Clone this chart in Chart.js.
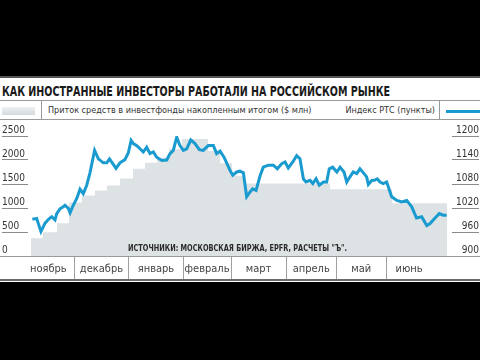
<!DOCTYPE html>
<html><head><meta charset="utf-8">
<script src="https://cdn.jsdelivr.net/npm/chart.js@4"></script>
<style>
html,body{margin:0;padding:0;background:#000;}
#wrap{position:relative;width:480px;height:360px;background:#000;overflow:hidden;font-family:'Liberation Sans Narrow','DejaVu Sans Condensed','Liberation Sans',sans-serif;color:#222;}
#panel{position:absolute;left:0;top:76px;width:480px;height:206px;background:#fff;border-top:2px solid #555;box-sizing:border-box;}
#title{position:absolute;left:2px;top:83px;font-weight:bold;font-size:14px;line-height:16px;white-space:nowrap;transform-origin:0 0;color:#1a1a1a;}
.hl{position:absolute;left:0;width:480px;height:1px;background:#9a9a9a;}
.vl{position:absolute;top:100px;width:1px;height:19px;background:#9a9a9a;}
#sw{position:absolute;left:2px;top:107px;width:33px;height:8px;background:linear-gradient(#eef1f3,#d3d9dc);}
#lg1{position:absolute;left:48px;top:104px;font-size:9px;line-height:12px;white-space:nowrap;color:#333;}
#lg2{position:absolute;right:45px;top:104px;font-size:9px;line-height:12px;white-space:nowrap;color:#333;}
#bl{position:absolute;left:446px;top:110px;width:34px;height:3px;background:#1a9bcf;}
#src{position:absolute;left:128px;top:243px;font-size:9px;line-height:11px;font-weight:bold;white-space:nowrap;color:#2a2a2a;transform-origin:0 0;}
#cv{position:absolute;left:0;top:120px;width:480px;height:162px;}
</style></head>
<body>
<div id="wrap">
  <div id="panel"></div>
  <div id="title">КАК ИНОСТРАННЫЕ ИНВЕСТОРЫ РАБОТАЛИ НА РОССИЙСКОМ РЫНКЕ</div>
  <div class="hl" style="top:100px"></div>
  <div class="hl" style="top:119px"></div>
  <div class="vl" style="left:41px"></div>
  <div class="vl" style="left:439px"></div>
  <div id="sw"></div>
  <div id="lg1">Приток средств в инвестфонды накопленным итогом ($ млн)</div>
  <div id="lg2">Индекс РТС (пункты)</div>
  <div id="bl"></div>
  <div id="cv"><canvas id="c" width="480" height="162"></canvas></div>
  <div id="src">ИСТОЧНИКИ: МОСКОВСКАЯ БИРЖА, EPFR, РАСЧЕТЫ "Ъ".</div>
</div>
<script>
// ---- data ----
const monthNames = ['ноябрь','декабрь','январь','февраль','март','апрель','май','июнь'];
const monthEdges = [0, 30, 62, 93.6, 121.6, 153.7, 183, 212, 239];
const leftTicks = [0, 500, 1000, 1500, 2000, 2500];
const rightTicks = [900, 960, 1020, 1080, 1140, 1200];

// cumulative inflow ($ mln), weekly steps (day of period, value)
const flowDays   = [4.9, 11.9, 20.1, 27.1, 34.7, 42.2, 49.2, 56.8, 64.4, 71.4, 78.4, 85.4, 93.0, 101.2, 108.2, 115.2, 122.2, 128.6, 179.3, 215.5, 228.3, 247.6];
const flowValues = [165, 372, 496, 682, 1116, 1260, 1364, 1467, 1612, 1818, 1942, 2045, 2231, 2438, 2438, 2190, 1930, 1674, 1508, 1390, 1100, 1100];

// RTS index (points)
const rtsDays = [5.7,8.2,10.7,13.1,15.4,17.0,18.9,19.9,21.8,23.7,24.7,26.7,27.7,29.6,31.6,33.5,35.4,37.4,39.3,42.0,44.2,47.1,49.1,50.7,52.3,54.5,56.8,59.7,61.7,63.3,64.6,66.6,68.5,70.4,72.4,74.3,76.3,78.2,81.2,84.1,86.0,87.9,89.9,91.8,93.8,95.7,98.1,100.6,103.1,105.4,108.3,111.3,113.2,115.2,117.5,121.0,122.6,124.9,126.8,128.8,130.7,132.7,134.2,136.2,138.5,140.4,143.4,146.3,148.6,151.2,153.1,155.0,157.6,159.9,161.8,163.8,165.3,167.7,169.3,171.2,173.1,175.5,177.4,178.9,180.9,183.3,185.2,187.5,189.1,191.0,192.9,194.9,196.8,199.2,200.7,201.7,203.7,205.6,206.9,208.5,210.4,212.4,215.3,218.3,221.2,224.1,227.0,229.8,232.8,235.8,237.7,240.6,243.1,245.4,247.4];
const rtsValues = [992,994,961,982,993,998,990,1006,1018,1023,1027,1019,1008,1027,1044,1067,1056,1077,1108,1164,1143,1133,1133,1143,1133,1119,1133,1141,1158,1189,1181,1176,1168,1160,1172,1156,1160,1147,1139,1140,1156,1164,1197,1176,1164,1168,1190,1181,1166,1164,1176,1176,1156,1162,1147,1114,1102,1110,1112,1108,1048,1060,1068,1064,1100,1122,1127,1127,1118,1131,1135,1120,1135,1151,1143,1093,1085,1089,1081,1093,1077,1085,1085,1118,1122,1110,1122,1110,1085,1098,1110,1106,1118,1106,1098,1079,1089,1090,1093,1085,1081,1085,1048,1039,1035,1039,1023,995,998,976,981,995,1006,1002,1002];

// ---- build ----
const FONT = "'Liberation Sans Narrow','DejaVu Sans Condensed','Liberation Sans',sans-serif";
Chart.defaults.font.family = FONT;
Chart.defaults.color = '#333';

const monthMids = monthNames.map((n, i) => (monthEdges[i] + monthEdges[i + 1]) / 2);
const innerEdges = monthEdges.slice(1, -1);

const framePlugin = {
  id: 'frame',
  afterDraw(chart) {
    const ctx = chart.ctx, a = chart.chartArea;
    ctx.save();
    ctx.strokeStyle = '#9a9a9a'; ctx.lineWidth = 1;
    ctx.beginPath(); ctx.moveTo(0, a.bottom + 0.5); ctx.lineTo(chart.width, a.bottom + 0.5); ctx.stroke();
    ctx.strokeStyle = '#6a6a6a'; ctx.lineWidth = 2;
    ctx.beginPath(); ctx.moveTo(0, chart.height - 2); ctx.lineTo(chart.width, chart.height - 2); ctx.stroke();
    ctx.restore();
  }
};

new Chart(document.getElementById('c'), {
  type: 'line',
  data: {
    datasets: [
      {
        label: 'Индекс РТС (пункты)',
        data: rtsDays.map((d, i) => ({x: d, y: rtsValues[i]})),
        yAxisID: 'yR',
        borderColor: '#1a9bcf',
        borderWidth: 3,
        pointRadius: 0,
        tension: 0,
        fill: false,
        order: 0
      },
      {
        label: 'Приток средств в инвестфонды накопленным итогом ($ млн)',
        data: flowDays.map((d, i) => ({x: d, y: flowValues[i]})),
        yAxisID: 'yL',
        stepped: 'after',
        borderWidth: 0,
        borderColor: 'rgba(0,0,0,0)',
        backgroundColor: '#dde2e5',
        fill: 'origin',
        pointRadius: 0,
        order: 1
      }
    ]
  },
  options: {
    responsive: false,
    animation: false,
    layout: {padding: {left: 2, right: 1, top: 16, bottom: 2}},
    plugins: {legend: {display: false}, tooltip: {enabled: false}},
    scales: {
      x: {
        type: 'linear',
        min: 3.15, max: 250.5,
        afterBuildTicks(s) {
          s.ticks = innerEdges.concat(monthMids).sort((a, b) => a - b).map(v => ({value: v}));
        },
        afterFit(s) { s.height = 24; },
        border: {display: false},
        grid: {
          drawOnChartArea: false,
          tickLength: 24,
          lineWidth: 1,
          color: ctx => (ctx.tick && innerEdges.includes(ctx.tick.value)) ? '#a0a0a0' : 'rgba(0,0,0,0)'
        },
        ticks: {
          autoSkip: false, maxRotation: 0, padding: -17,
          font: {size: 11},
          color: '#444',
          callback: v => { const i = monthMids.indexOf(v); return i >= 0 ? monthNames[i] : ''; }
        }
      },
      yL: {
        position: 'left',
        min: 0, max: 2500,
        afterBuildTicks(s) { s.ticks = leftTicks.map(v => ({value: v})); },
        afterFit(s) { s.width = 26; },
        border: {display: false},
        grid: {drawOnChartArea: false, tickLength: 26, color: '#8a8a8a', lineWidth: 1},
        ticks: {crossAlign: 'far', labelOffset: -6, padding: 0, font: {size: 10}, color: '#333', callback: v => String(v)}
      },
      yR: {
        position: 'right',
        min: 900, max: 1200,
        afterBuildTicks(s) { s.ticks = rightTicks.map(v => ({value: v})); },
        afterFit(s) { s.width = 27; },
        border: {display: false},
        grid: {drawOnChartArea: false, tickLength: 27, color: '#8a8a8a', lineWidth: 1},
        ticks: {crossAlign: 'far', labelOffset: -6, padding: 0, font: {size: 10}, color: '#333', callback: v => String(v)}
      }
    }
  },
  plugins: [framePlugin]
});

// fit title and source widths to the reference
function fitW(id, w) {
  const el = document.getElementById(id);
  const cw = el.getBoundingClientRect().width;
  if (cw > 0) el.style.transform = 'scaleX(' + (w / cw) + ')';
}
fitW('title', 388);
fitW('src', 219);
</script>
</body></html>
